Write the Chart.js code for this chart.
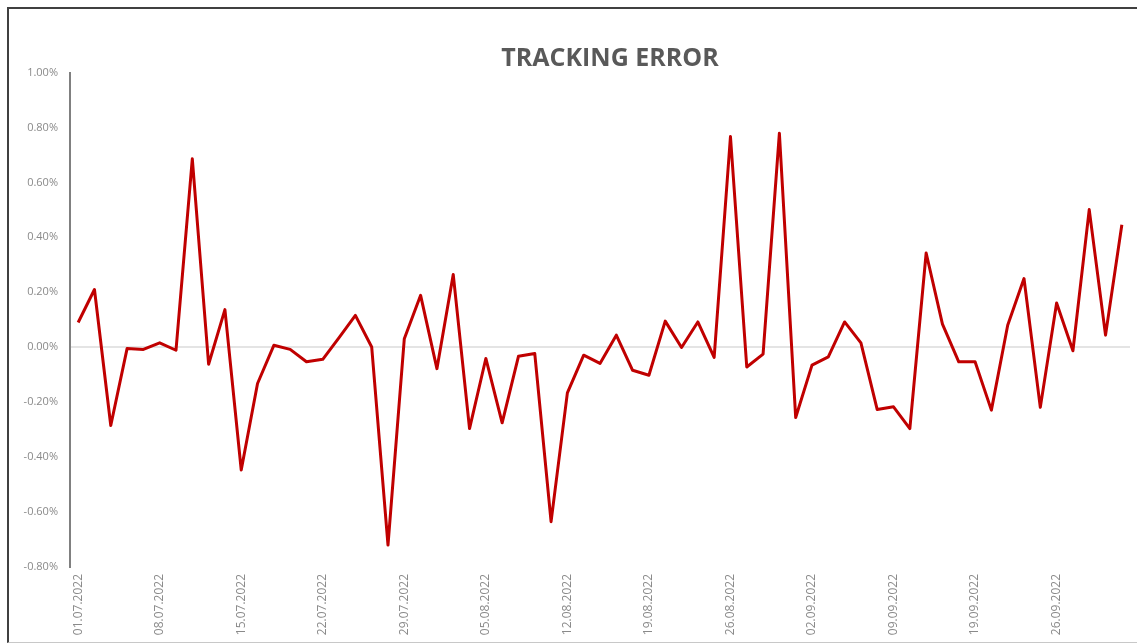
<!DOCTYPE html>
<html>
<head>
<meta charset="utf-8">
<title>Tracking Error</title>
<script src="https://cdn.jsdelivr.net/npm/chart.js@4/dist/chart.umd.min.js"></script>
<style>
    body {
        margin: 0;
        background: #fff;
        overflow: hidden;
    }
    .frame {
        position: absolute;
        left: 7px;
        top: 7px;
        width: 1250px;
        height: 633px;
        border-top: 2px solid #404040;
        border-left: 2px solid #404040;
        border-bottom: 1px solid #c8c8c8;
    }
    #trackingChart {
        display: block;
    }
</style>
</head>
<body>
<div class="frame">
    <canvas id="trackingChart" width="1202" height="633"></canvas>
</div>
<script>
// Trading days (16.09 is missing in the source)
const dates = [
    '01.07.2022', '04.07.2022', '05.07.2022', '06.07.2022', '07.07.2022',
    '08.07.2022', '11.07.2022', '12.07.2022', '13.07.2022', '14.07.2022',
    '15.07.2022', '18.07.2022', '19.07.2022', '20.07.2022', '21.07.2022',
    '22.07.2022', '25.07.2022', '26.07.2022', '27.07.2022', '28.07.2022',
    '29.07.2022', '01.08.2022', '02.08.2022', '03.08.2022', '04.08.2022',
    '05.08.2022', '08.08.2022', '09.08.2022', '10.08.2022', '11.08.2022',
    '12.08.2022', '15.08.2022', '16.08.2022', '17.08.2022', '18.08.2022',
    '19.08.2022', '22.08.2022', '23.08.2022', '24.08.2022', '25.08.2022',
    '26.08.2022', '29.08.2022', '30.08.2022', '31.08.2022', '01.09.2022',
    '02.09.2022', '05.09.2022', '06.09.2022', '07.09.2022', '08.09.2022',
    '09.09.2022', '12.09.2022', '13.09.2022', '14.09.2022', '15.09.2022',
    '19.09.2022', '20.09.2022', '21.09.2022', '22.09.2022', '23.09.2022',
    '26.09.2022', '27.09.2022', '28.09.2022', '29.09.2022', '30.09.2022'
];

// Tracking error in percent
const trackingError = [
    0.09, 0.21, -0.285, -0.005, -0.008,
    0.016, -0.011, 0.686, -0.062, 0.137,
    -0.447, -0.132, 0.007, -0.008, -0.053,
    -0.044, 0.035, 0.116, 0.001, -0.72,
    0.031, 0.189, -0.078, 0.265, -0.296,
    -0.041, -0.275, -0.033, -0.023, -0.635,
    -0.166, -0.029, -0.059, 0.044, -0.084,
    -0.102, 0.095, -0.001, 0.092, -0.037,
    0.767, -0.072, -0.025, 0.779, -0.256,
    -0.065, -0.035, 0.092, 0.016, -0.227,
    -0.217, -0.296, 0.343, 0.084, -0.053,
    -0.053, -0.229, 0.080, 0.250, -0.219,
    0.161, -0.013, 0.501, 0.044, 0.446
];

// Y axis range and steps (percent)
const yMin = -0.8;
const yMax = 1.0;
const yStep = 0.2;

// Only every fifth date gets a label
const labelEvery = 5;

const ctx = document.getElementById('trackingChart').getContext('2d');
const trackingChart = new Chart(ctx, {
    type: 'line',
    data: {
        labels: dates,
        datasets: [{
            label: 'Tracking Error',
            data: trackingError,
            borderColor: '#c00000',
            borderWidth: 3,
            borderJoinStyle: 'round',
            pointRadius: 0,
            tension: 0,
            fill: false
        }]
    },
    options: {
        responsive: false,
        animation: false,
        plugins: {
            legend: { display: false },
            tooltip: { enabled: false },
            title: {
                display: true,
                text: 'TRACKING ERROR',
                color: '#595959',
                font: { family: 'Open Sans', size: 25, weight: 'bold', lineHeight: 1.06 },
                padding: { top: 37, bottom: 0 }
            }
        },
        scales: {
            x: {
                offset: true,
                grid: { display: false, drawTicks: false },
                border: { display: false },
                ticks: {
                    autoSkip: false,
                    maxRotation: 90,
                    minRotation: 90,
                    padding: 7,
                    color: '#8a8a8a',
                    font: { family: 'Open Sans', size: 12 },
                    callback: function(value, index) {
                        return index % labelEvery === 0 ? this.getLabelForValue(value) : '';
                    }
                },
                afterFit: function(scale) {
                    scale.height = 75;
                }
            },
            y: {
                min: yMin,
                max: yMax,
                grid: {
                    drawTicks: false,
                    lineWidth: 2,
                    color: context => Math.abs(context.tick.value) < 1e-9 ? '#e4e4e4' : 'transparent'
                },
                border: { display: true, color: '#808080', width: 2 },
                ticks: {
                    stepSize: yStep,
                    padding: 12,
                    color: '#8a8a8a',
                    font: { family: 'Open Sans', size: 11 },
                    callback: value => value.toFixed(2) + '%'
                },
                afterFit: function(scale) {
                    scale.width = 61;
                }
            },
            // empty right axis, only keeps space so the title stays centred on the full chart
            yRight: {
                position: 'right',
                min: yMin,
                max: yMax,
                grid: { display: false, drawTicks: false },
                border: { display: false },
                ticks: { display: false },
                afterFit: function(scale) {
                    scale.width = 81;
                }
            }
        }
    }
});
</script>
</body>
</html>
